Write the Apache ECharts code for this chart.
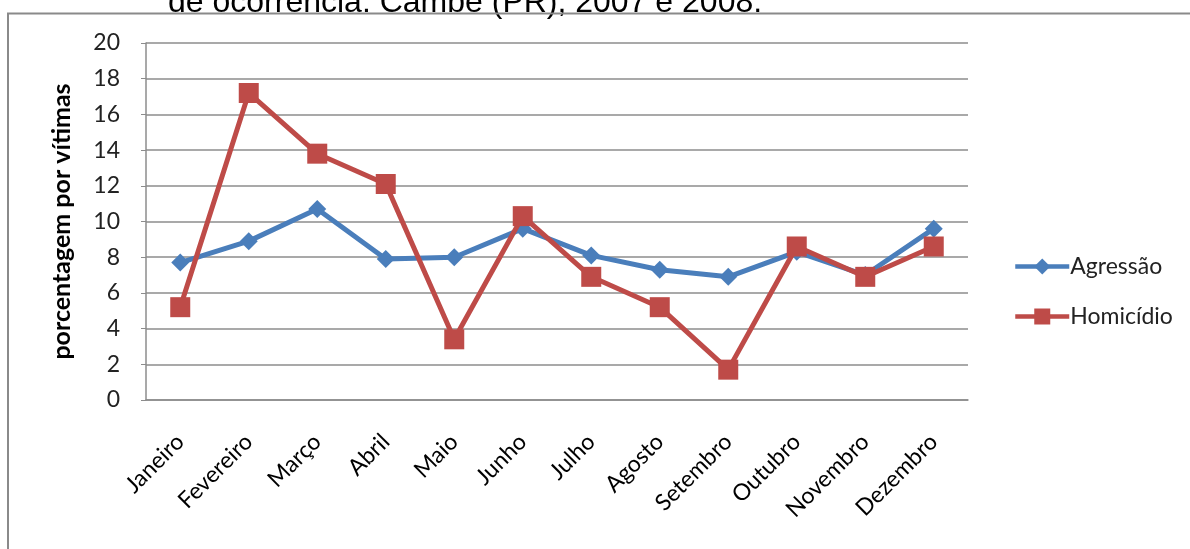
<!DOCTYPE html>
<html><head><meta charset="utf-8">
<script src="https://cdn.jsdelivr.net/npm/echarts@6/dist/echarts.min.js"></script>
<style>html,body{margin:0;padding:0;background:#fff}#c{width:1190px;height:549px}</style>
</head><body><div id="c"></div>
<script>
var categories = ['Janeiro','Fevereiro','Março','Abril','Maio','Junho','Julho','Agosto','Setembro','Outubro','Novembro','Dezembro'];
var agressao = [7.7, 8.9, 10.7, 7.9, 8.0, 9.6, 8.1, 7.3, 6.9, 8.3, 7.0, 9.6];
var homicidio = [5.2, 17.2, 13.8, 12.1, 3.4, 10.3, 6.9, 5.2, 1.7, 8.6, 6.9, 8.6];
var seriesNames = ['Agressão', 'Homicídio'];
var yTitle = 'porcentagem por vítimas';
var caption = 'de ocorrência: Cambé (PR), 2007 e 2008.';

var font = 'Lato, "Open Sans", sans-serif';
var chart = echarts.init(document.getElementById('c'), null, {renderer: 'canvas'});
chart.setOption({
  animation: false,
  backgroundColor: '#fff',
  graphic: [
    {type: 'text', x: 168, y: -13, style: {text: caption, font: '32px "Liberation Sans", Arial, sans-serif', fill: '#000'}},
    {type: 'rect', shape: {x: 8, y: 13.5, width: 1200, height: 560}, style: {fill: 'none', stroke: '#8a8a8a', lineWidth: 2}, silent: true}
  ],
  grid: {left: 146, right: 222, top: 43, bottom: 149, containLabel: false},
  legend: {
    orient: 'vertical', left: 1008, top: 250,
    itemWidth: 54, itemHeight: 20, itemGap: 27,
    lineStyle: {width: 4.5},
    textStyle: {fontFamily: font, fontSize: 23, color: '#222', padding: [0, 0, 0, -4]},
    data: seriesNames
  },
  xAxis: {
    type: 'category', data: categories, boundaryGap: true,
    axisLine: {lineStyle: {color: '#8c8c8c', width: 1.5}},
    axisTick: {show: false},
    axisLabel: {rotate: 45, fontFamily: font, fontSize: 23, color: '#000', margin: 38, interval: 0}
  },
  yAxis: {
    type: 'value', min: 0, max: 20, interval: 2,
    name: yTitle, nameLocation: 'middle', nameGap: 72, nameRotate: 90,
    nameTextStyle: {fontFamily: font, fontSize: 25, fontWeight: 'bold', color: '#000'},
    axisLine: {show: true, lineStyle: {color: '#8c8c8c', width: 1.5}},
    axisTick: {show: true, length: 5, lineStyle: {color: '#8c8c8c'}},
    axisLabel: {fontFamily: font, fontSize: 23, color: '#222', margin: 26},
    splitLine: {lineStyle: {color: '#8c8c8c', width: 1.5}}
  },
  series: [
    {name: seriesNames[0], type: 'line', data: agressao, symbol: 'diamond', symbolSize: 18,
     lineStyle: {color: '#4a7ebb', width: 5}, itemStyle: {color: '#4a7ebb'}, z: 2},
    {name: seriesNames[1], type: 'line', data: homicidio, symbol: 'rect', symbolSize: 20,
     lineStyle: {color: '#be4b48', width: 5}, itemStyle: {color: '#be4b48'}, z: 3}
  ]
});
</script></body></html>
